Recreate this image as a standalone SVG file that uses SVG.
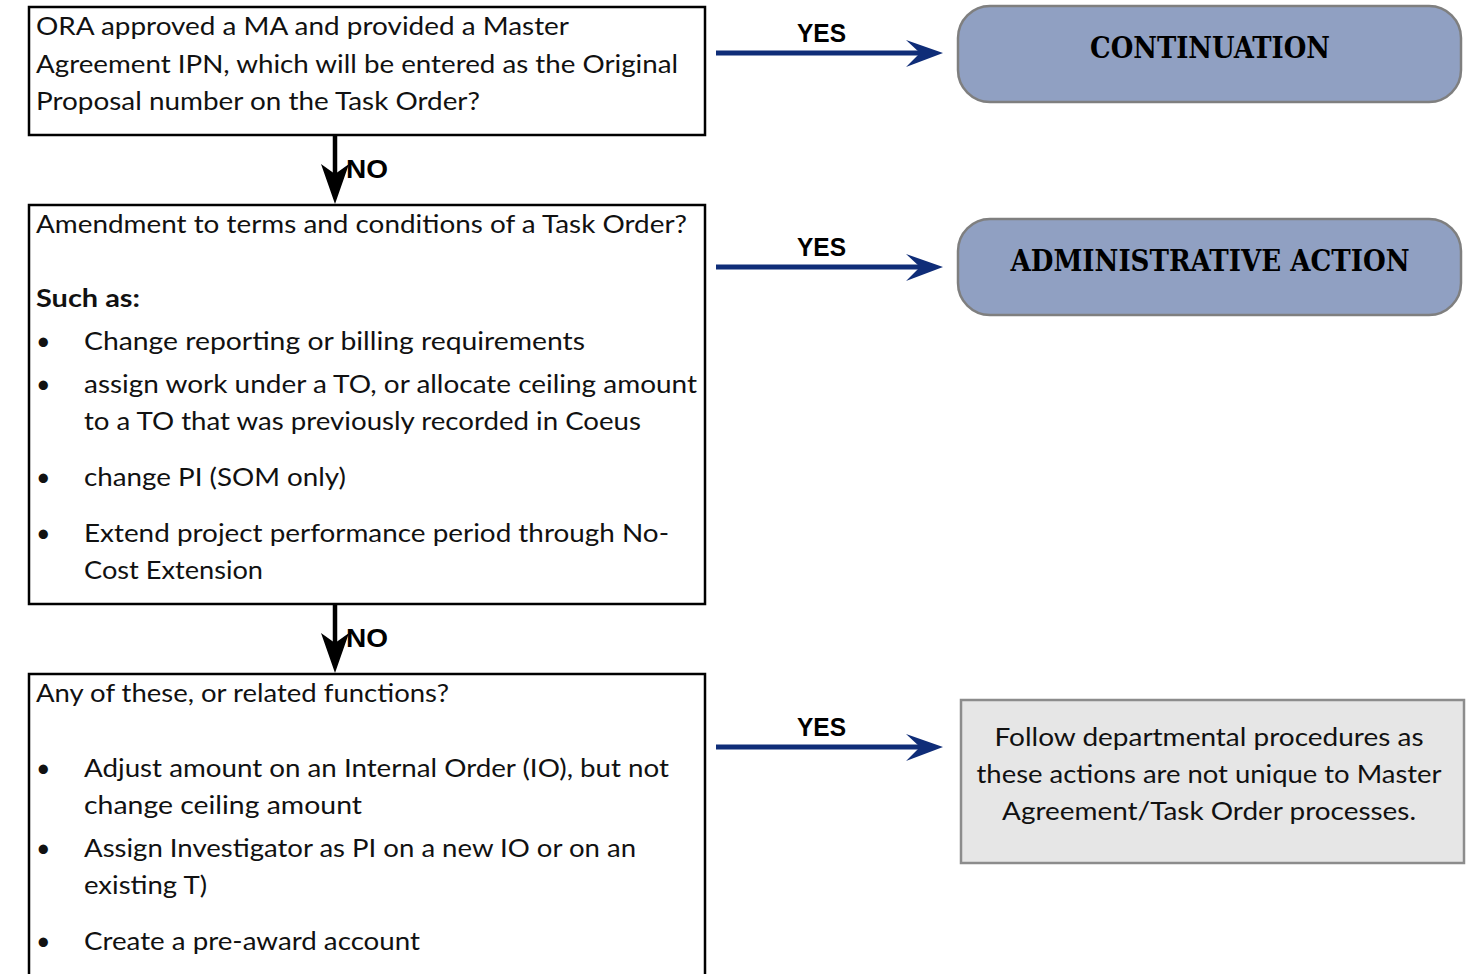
<svg xmlns="http://www.w3.org/2000/svg" width="1480" height="974" viewBox="0 0 1480 974">
<style>
.q{fill:#fff;stroke:#000;stroke-width:2.5}
.t{font-family:Lato,"Noto Sans",sans-serif;font-size:25px;fill:#111}
.b{font-weight:bold}
.r{fill:#90a0c2;stroke:#7f7f7f;stroke-width:2.5}
.h{font-family:"DejaVu Serif Condensed","DejaVu Serif",serif;font-weight:bold;font-size:30px;fill:#000;text-anchor:middle}
.y{font-family:"Liberation Sans",Arial,sans-serif;font-weight:bold;font-size:25px;fill:#000}
.yl{stroke:#0f2d78;stroke-width:5;fill:none}
.yh{fill:#0f2d78}
.nl{stroke:#000;stroke-width:4.5;fill:none}
</style>
<g id="connectors">
  <line class="yl" x1="716" y1="53" x2="928" y2="53"/>
  <path class="yh" d="M943,53 L906,40 L920,53 L906,67 Z"/>
  <text class="y" x="797" y="42" textLength="49" lengthAdjust="spacingAndGlyphs">YES</text>
  <line class="yl" x1="716" y1="267" x2="928" y2="267"/>
  <path class="yh" d="M943,267 L906,254 L920,267 L906,281 Z"/>
  <text class="y" x="797" y="256" textLength="49" lengthAdjust="spacingAndGlyphs">YES</text>
  <line class="yl" x1="716" y1="747" x2="928" y2="747"/>
  <path class="yh" d="M943,747 L906,734 L920,747 L906,761 Z"/>
  <text class="y" x="797" y="736" textLength="49" lengthAdjust="spacingAndGlyphs">YES</text>
  <line class="nl" x1="335" y1="136" x2="335" y2="185"/>
  <path d="M321,164 L335,204 L349,164 L335,174 Z" fill="#000"/>
  <text class="y" x="346" y="178" textLength="42" lengthAdjust="spacingAndGlyphs">NO</text>
  <line class="nl" x1="335" y1="605" x2="335" y2="654"/>
  <path d="M321,633 L335,673 L349,633 L335,643 Z" fill="#000"/>
  <text class="y" x="346" y="647" textLength="42" lengthAdjust="spacingAndGlyphs">NO</text>
</g>
<g id="q1">
  <rect class="q" x="29" y="7" width="676" height="128"/>
  <text class="t" x="36" y="35" textLength="533" lengthAdjust="spacingAndGlyphs">ORA approved a MA and provided a Master</text>
  <text class="t" x="36" y="73" textLength="642" lengthAdjust="spacingAndGlyphs">Agreement IPN, which will be entered as the Original</text>
  <text class="t" x="36" y="110" textLength="444" lengthAdjust="spacingAndGlyphs">Proposal number on the Task Order?</text>
</g>
<g id="q2">
  <rect class="q" x="29" y="205" width="676" height="399"/>
  <text class="t" x="36" y="233" textLength="651" lengthAdjust="spacingAndGlyphs">Amendment to terms and conditions of a Task Order?</text>
  <text class="t b" x="36" y="307" textLength="104" lengthAdjust="spacingAndGlyphs">Such as:</text>
  <text class="t" x="36" y="350">•</text>
  <text class="t" x="84" y="350" textLength="501" lengthAdjust="spacingAndGlyphs">Change reporting or billing requirements</text>
  <text class="t" x="36" y="393">•</text>
  <text class="t" x="84" y="393" textLength="613" lengthAdjust="spacingAndGlyphs">assign work under a TO, or allocate ceiling amount</text>
  <text class="t" x="84" y="430" textLength="557" lengthAdjust="spacingAndGlyphs">to a TO that was previously recorded in Coeus</text>
  <text class="t" x="36" y="486">•</text>
  <text class="t" x="84" y="486" textLength="262" lengthAdjust="spacingAndGlyphs">change PI (SOM only)</text>
  <text class="t" x="36" y="542">•</text>
  <text class="t" x="84" y="542" textLength="585" lengthAdjust="spacingAndGlyphs">Extend project performance period through No-</text>
  <text class="t" x="84" y="579" textLength="179" lengthAdjust="spacingAndGlyphs">Cost Extension</text>
</g>
<g id="q3">
  <rect class="q" x="29" y="674" width="676" height="320"/>
  <text class="t" x="36" y="702" textLength="413" lengthAdjust="spacingAndGlyphs">Any of these, or related functions?</text>
  <text class="t" x="36" y="777">•</text>
  <text class="t" x="84" y="777" textLength="585" lengthAdjust="spacingAndGlyphs">Adjust amount on an Internal Order (IO), but not</text>
  <text class="t" x="84" y="814" textLength="278" lengthAdjust="spacingAndGlyphs">change ceiling amount</text>
  <text class="t" x="36" y="857">•</text>
  <text class="t" x="84" y="857" textLength="552" lengthAdjust="spacingAndGlyphs">Assign Investigator as PI on a new IO or on an</text>
  <text class="t" x="84" y="894" textLength="123" lengthAdjust="spacingAndGlyphs">existing T)</text>
  <text class="t" x="36" y="950">•</text>
  <text class="t" x="84" y="950" textLength="336" lengthAdjust="spacingAndGlyphs">Create a pre-award account</text>
</g>
<g id="continuation">
  <rect class="r" x="958" y="6" width="503" height="96" rx="32"/>
  <text class="h" x="1210" y="58" textLength="240" lengthAdjust="spacingAndGlyphs">CONTINUATION</text>
</g>
<g id="admin">
  <rect class="r" x="958" y="219" width="503" height="96" rx="32"/>
  <text class="h" x="1210" y="271" textLength="399" lengthAdjust="spacingAndGlyphs">ADMINISTRATIVE ACTION</text>
</g>
<g id="follow">
  <rect x="961" y="700" width="503" height="163" fill="#e6e6e6" stroke="#8c8c8c" stroke-width="2.5"/>
  <text class="t" x="1209" y="746" text-anchor="middle" textLength="429" lengthAdjust="spacingAndGlyphs">Follow departmental procedures as</text>
  <text class="t" x="1209" y="783" text-anchor="middle" textLength="465" lengthAdjust="spacingAndGlyphs">these actions are not unique to Master</text>
  <text class="t" x="1209" y="820" text-anchor="middle" textLength="414" lengthAdjust="spacingAndGlyphs">Agreement/Task Order processes.</text>
</g>
</svg>
